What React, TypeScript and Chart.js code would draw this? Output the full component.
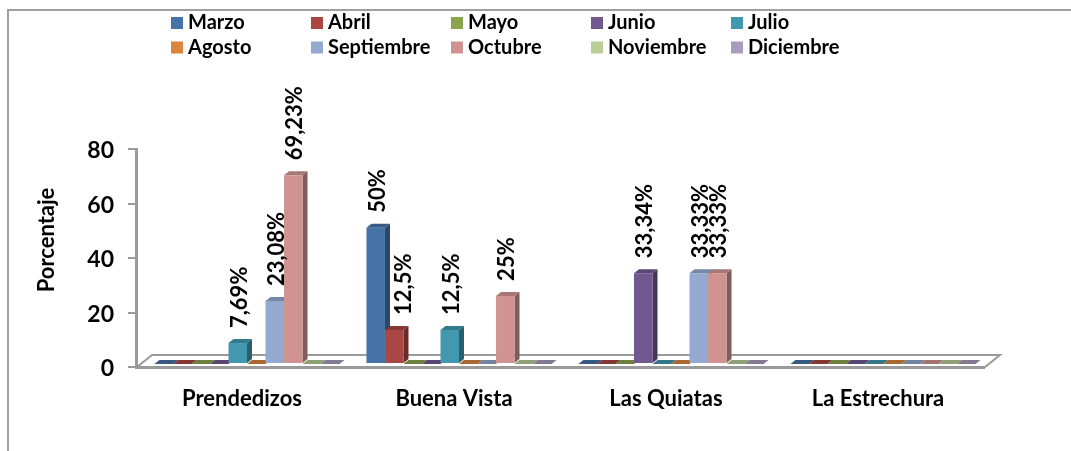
import React, { useEffect, useRef } from "react";
import { Chart, registerables } from "chart.js";

Chart.register(...registerables);

const categories = ["Prendedizos", "Buena Vista", "Las Quiatas", "La Estrechura"];
const seriesNames = ["Marzo", "Abril", "Mayo", "Junio", "Julio", "Agosto", "Septiembre", "Octubre", "Noviembre", "Diciembre"];
const colors = ["#4572A7", "#AA4643", "#89A54E", "#71588F", "#4198AF", "#DB843D", "#93A9CF", "#D19392", "#B9CD96", "#A99BBD"];

const marzo = [0, 50, 0, 0];
const abril = [0, 12.5, 0, 0];
const mayo = [0, 0, 0, 0];
const junio = [0, 0, 33.34, 0];
const julio = [7.69, 12.5, 0, 0];
const agosto = [0, 0, 0, 0];
const septiembre = [23.08, 0, 33.33, 0];
const octubre = [69.23, 25, 33.33, 0];
const noviembre = [0, 0, 0, 0];
const diciembre = [0, 0, 0, 0];
const seriesValues = [marzo, abril, mayo, junio, julio, agosto, septiembre, octubre, noviembre, diciembre];

const yTicks = [0, 20, 40, 60, 80];
const yTitle = "Porcentaje";

const FONT = "Lato, Carlito, Calibri, sans-serif";
const DX = 5;
const DY = 4;
const LIFT = 3;
const AXIS = "#9a9a9a";

function shade(hex: string, f: number) {
  const n = parseInt(hex.slice(1), 16);
  const r = Math.round(((n >> 16) & 255) * f);
  const g = Math.round(((n >> 8) & 255) * f);
  const b = Math.round((n & 255) * f);
  return `rgb(${r},${g},${b})`;
}

function quad(ctx: CanvasRenderingContext2D, p: number[][], fill: string) {
  ctx.fillStyle = fill;
  ctx.beginPath();
  ctx.moveTo(p[0][0], p[0][1]);
  for (let i = 1; i < p.length; i++) ctx.lineTo(p[i][0], p[i][1]);
  ctx.closePath();
  ctx.fill();
}

const framePlugin = {
  id: "frameAndFloor",
  beforeDatasetsDraw(chart: any) {
    const { ctx, chartArea, scales } = chart;
    const y0 = scales.y.getPixelForValue(0);
    const l = chartArea.left;
    const r = chartArea.right;
    ctx.save();
    // outer frame
    ctx.strokeStyle = "#a0a0a0";
    ctx.lineWidth = 2;
    ctx.beginPath();
    ctx.moveTo(8, 451);
    ctx.lineTo(8, 10);
    ctx.lineTo(1071, 10);
    ctx.stroke();
    // floor
    ctx.fillStyle = "#ffffff";
    ctx.strokeStyle = AXIS;
    ctx.lineWidth = 2;
    ctx.beginPath();
    ctx.moveTo(l + 1, y0);
    ctx.lineTo(l + 16, y0 - 12);
    ctx.lineTo(r + 16, y0 - 12);
    ctx.lineTo(r + 1, y0);
    ctx.closePath();
    ctx.fill();
    ctx.stroke();
    // legend
    ctx.textBaseline = "middle";
    ctx.textAlign = "left";
    ctx.font = `bold 20px ${FONT}`;
    seriesNames.forEach((name, i) => {
      const col = i % 5;
      const row = Math.floor(i / 5);
      const x = 171 + col * 140;
      const y = 23 + row * 24.5;
      ctx.fillStyle = colors[i];
      ctx.fillRect(x, y - 6, 12, 12);
      ctx.fillStyle = "#000000";
      ctx.fillText(name, x + 17, y);
    });
    // y axis title
    ctx.save();
    ctx.translate(47, 240);
    ctx.rotate(-Math.PI / 2);
    ctx.textAlign = "center";
    ctx.font = `bold 22px ${FONT}`;
    ctx.fillText(yTitle, 0, 0);
    ctx.restore();
    ctx.restore();
    ctx.save();
    ctx.translate(DX, -LIFT);
    // depth faces go down first, the chart's own bar fronts then cover them
    seriesValues.forEach((vals, d) => {
      const meta = chart.getDatasetMeta(d);
      vals.forEach((v, i) => {
        if (v !== 0) return;
        const bar = meta.data[i];
        const left = bar.x - bar.width / 2;
        const right = bar.x + bar.width / 2;
        const base = bar.base;
        quad(ctx, [[left, base], [right, base], [right + DX, base - DY], [left + DX, base - DY]], shade(colors[d], 0.78));
      });
    });
    seriesValues.forEach((vals, d) => {
      const meta = chart.getDatasetMeta(d);
      vals.forEach((v, i) => {
        if (v === 0) return;
        const bar = meta.data[i];
        const left = bar.x - bar.width / 2;
        const right = bar.x + bar.width / 2;
        const top = bar.y;
        const base = bar.base;
        quad(ctx, [[right, top], [right + DX, top - DY], [right + DX, base - DY], [right, base]], shade(colors[d], 0.62));
        quad(ctx, [[left, top], [left + DX, top - DY], [right + DX, top - DY], [right, top]], shade(colors[d], 0.8));
      });
    });
  },
  afterDatasetsDraw(chart: any) {
    const { ctx } = chart;
    ctx.fillStyle = "#000000";
    ctx.font = `bold 22px ${FONT}`;
    ctx.textAlign = "left";
    ctx.textBaseline = "middle";
    seriesValues.forEach((vals, d) => {
      const meta = chart.getDatasetMeta(d);
      vals.forEach((v, i) => {
        if (v === 0) return;
        const bar = meta.data[i];
        const nudge = seriesNames[d] === "Abril" ? 8 : 0;
        ctx.save();
        ctx.translate(bar.x + nudge + 2, bar.y - 15);
        ctx.rotate(-Math.PI / 2);
        ctx.fillText(`${String(v).replace(".", ",")}%`, 0, 0);
        ctx.restore();
      });
    });
    ctx.restore();
  },
};

export default function App() {
  const ref = useRef<HTMLCanvasElement>(null);
  useEffect(() => {
    const chart = new Chart(ref.current!, {
      type: "bar",
      data: {
        labels: categories,
        datasets: seriesNames.map((name, i) => ({
          label: name,
          data: seriesValues[i],
          backgroundColor: colors[i],
          borderWidth: 0,
          barPercentage: 1,
          categoryPercentage: 0.873,
          clip: false,
        })),
      },
      options: {
        responsive: false,
        animation: false,
        layout: { padding: { left: 36, right: 87, top: 149, bottom: 24 } },
        plugins: { legend: { display: false }, tooltip: { enabled: false }, title: { display: false } },
        scales: {
          x: {
            afterFit: (s: any) => { s.height = 60; },
            grid: { display: false },
            border: { display: true, color: AXIS, width: 3 },
            ticks: { color: "#000", padding: 11, font: { family: FONT, size: 22, weight: "bold" }, maxRotation: 0 },
          },
          y: {
            min: 0,
            max: 80,
            afterFit: (s: any) => { s.width = 100; },
            afterBuildTicks: (s: any) => { s.ticks = yTicks.map((value) => ({ value })); },
            grid: { drawOnChartArea: false, drawTicks: true, tickLength: 8, color: AXIS, lineWidth: 2 },
            border: { display: true, color: AXIS, width: 3 },
            ticks: { color: "#000", padding: 14, labelOffset: 2, font: { family: FONT, size: 23, weight: "bold" } },
          },
        },
      },
      plugins: [framePlugin],
    } as any);
    return () => chart.destroy();
  }, []);
  return (
    <div style={{ position: "absolute", left: 0, top: 0, width: 1071, height: 451 }}>
      <canvas ref={ref} width={1071} height={451} style={{ display: "block" }} />
    </div>
  );
}
